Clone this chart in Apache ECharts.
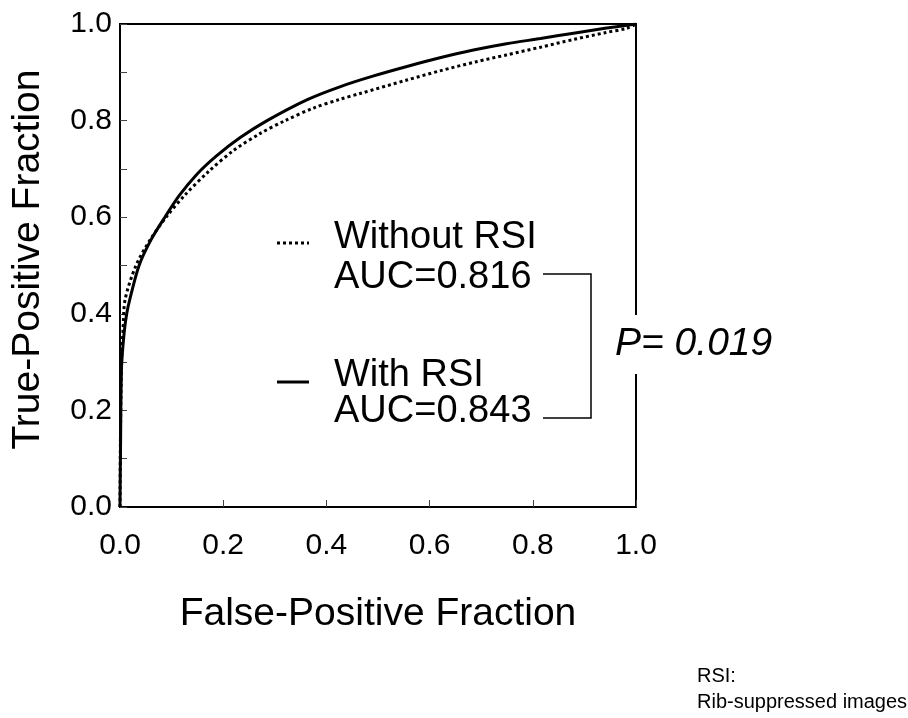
<!DOCTYPE html>
<html>
<head>
<meta charset="utf-8">
<script src="https://cdn.jsdelivr.net/npm/echarts@6/dist/echarts.min.js"></script>
<style>
  html, body { margin: 0; padding: 0; background: #fff; }
  #chart { width: 908px; height: 718px; }
</style>
</head>
<body>
<div id="chart"></div>
<script>
// ROC curves: [false-positive fraction, true-positive fraction]
const withRSI = [
  [0, 0], [0.001, 0.12], [0.003, 0.29], [0.008, 0.36], [0.013, 0.40], [0.019, 0.43],
  [0.037, 0.50], [0.06, 0.553], [0.087, 0.60], [0.115, 0.645], [0.15, 0.69],
  [0.187, 0.727], [0.233, 0.765], [0.285, 0.80], [0.362, 0.843], [0.426, 0.870],
  [0.49, 0.892], [0.556, 0.912], [0.62, 0.93], [0.685, 0.946], [0.749, 0.959],
  [0.815, 0.970], [0.879, 0.981], [0.94, 0.991], [1, 1]
];
const withoutRSI = [
  [0, 0], [0.001, 0.16], [0.003, 0.30], [0.006, 0.37], [0.010, 0.43], [0.031, 0.50],
  [0.06, 0.556], [0.093, 0.605], [0.125, 0.645], [0.172, 0.695], [0.220, 0.738],
  [0.271, 0.773], [0.32, 0.80], [0.375, 0.826], [0.426, 0.844], [0.465, 0.856],
  [0.556, 0.884], [0.620, 0.903], [0.691, 0.922], [0.749, 0.936], [0.815, 0.952],
  [0.879, 0.968], [0.94, 0.982], [0.982, 0.991], [1, 1]
];
const seriesNames = ['Without RSI', 'With RSI'];
const aucValues = ['0.816', '0.843'];
const pValue = '0.019';

const FONT = '"Liberation Sans", Arial, Helvetica, sans-serif';
const chart = echarts.init(document.getElementById('chart'), null, { renderer: 'canvas' });

const axisCommon = {
  type: 'value', min: 0, max: 1, interval: 0.2,
  axisLine: { show: true, lineStyle: { color: '#000', width: 2 } },
  axisTick: { show: true, inside: true, length: 7, lineStyle: { color: '#444', width: 1 } },
  splitLine: { show: false },
  axisLabel: {
    color: '#000', fontFamily: FONT, fontSize: 30,
    formatter: v => v.toFixed(1)
  },
  nameLocation: 'middle',
  nameTextStyle: { color: '#000', fontFamily: FONT, fontSize: 39 }
};

chart.setOption({
  animation: false,
  backgroundColor: '#fff',
  grid: {
    left: 120, right: 272, top: 24, bottom: 211,
    outerBoundsMode: 'none', containLabel: false,
    show: true, borderColor: '#000', borderWidth: 2, backgroundColor: 'transparent'
  },
  xAxis: Object.assign({}, axisCommon, {
    name: 'False-Positive Fraction', nameGap: 88,
    axisLabel: Object.assign({}, axisCommon.axisLabel, { margin: 24 })
  }),
  yAxis: Object.assign({}, axisCommon, {
    name: 'True-Positive Fraction', nameGap: 72,
    nameTextStyle: Object.assign({}, axisCommon.nameTextStyle, { padding: [0, 0, 0, 12] }),
    axisLabel: Object.assign({}, axisCommon.axisLabel, { margin: 8 }),
    minorTick: { show: true, splitNumber: 2, length: 7, lineStyle: { color: '#444', width: 1 } }
  }),
  series: [
    {
      name: seriesNames[0], type: 'line', data: withoutRSI, showSymbol: false, smooth: 0.3,
      lineStyle: { color: '#000', width: 3, type: [3, 3] }, z: 3
    },
    {
      name: seriesNames[1], type: 'line', data: withRSI, showSymbol: false, smooth: 0.3,
      lineStyle: { color: '#000', width: 3 }, z: 4
    }
  ],
  graphic: [
    // key samples
    { type: 'line', shape: { x1: 277, y1: 243, x2: 309, y2: 243 },
      style: { stroke: '#000', lineWidth: 3, lineDash: [3, 3] } },
    { type: 'line', shape: { x1: 277, y1: 382, x2: 309, y2: 382 },
      style: { stroke: '#000', lineWidth: 3 } },
    // key texts
    { type: 'text', left: 334, top: 219,
      style: { text: seriesNames[0], font: '38px ' + FONT, fill: '#000' } },
    { type: 'text', left: 334, top: 259,
      style: { text: 'AUC=' + aucValues[0], font: '38px ' + FONT, fill: '#000' } },
    { type: 'text', left: 334, top: 357,
      style: { text: seriesNames[1], font: '38px ' + FONT, fill: '#000' } },
    { type: 'text', left: 334, top: 393,
      style: { text: 'AUC=' + aucValues[1], font: '38px ' + FONT, fill: '#000' } },
    // comparison bracket
    { type: 'polyline', shape: { points: [[543, 274], [591, 274], [591, 418], [543, 418]] },
      style: { stroke: '#000', lineWidth: 1.5, fill: null } },
    // p-value, on a white box over the frame
    { type: 'text', left: 611, top: 315, z: 100,
      style: { text: 'P= ' + pValue, font: 'italic 39px ' + FONT, fill: '#000',
               backgroundColor: '#fff', padding: [10, 4, 10, 4] } },
    // footnote
    { type: 'text', left: 697, top: 666,
      style: { text: 'RSI:', font: '20px ' + FONT, fill: '#000' } },
    { type: 'text', left: 697, top: 692,
      style: { text: 'Rib-suppressed images', font: '20px ' + FONT, fill: '#000' } }
  ]
});
</script>
</body>
</html>
